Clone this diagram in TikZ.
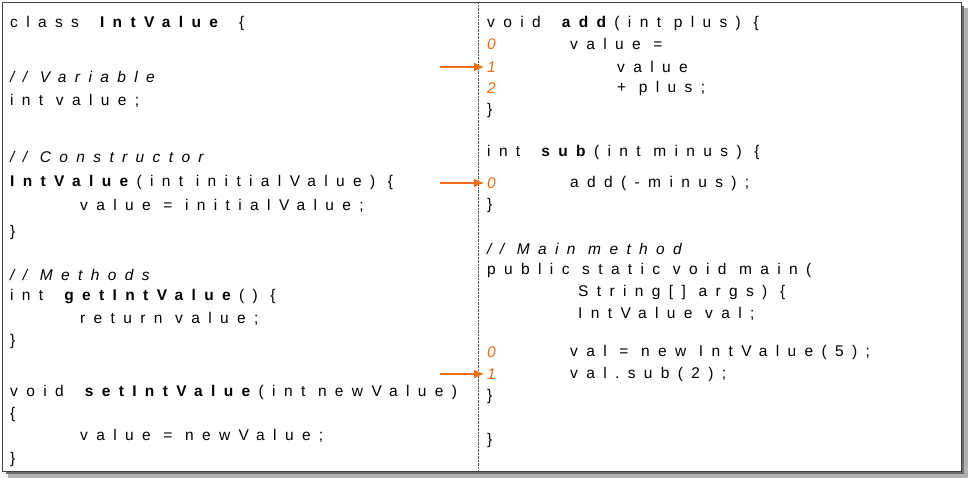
\documentclass[tikz,border=0pt]{standalone}
\usepackage{fontspec}
\usetikzlibrary{arrows.meta}
\newfontfamily\code[LetterSpace=54]{Liberation Sans}
\definecolor{org}{RGB}{240,110,20}
\begin{document}
\begin{tikzpicture}[x=1pt,y=-1pt,
  t/.style={anchor=west,inner sep=0pt,font=\code\fontsize{15.5}{17}\selectfont},
  o/.style={t,text=org,font=\code\itshape\fontsize{15.5}{17}\selectfont},
  arr/.style={draw=org,line width=1.4pt,-{Latex[length=10pt,width=9pt]}}]
\useasboundingbox (0,0) rectangle (969,478);
\fill[gray!60] (8,8) rectangle (968,478);
\fill[gray!85!black] (6,6) rectangle (964,474);
\draw[fill=white,draw=gray!50!black] (2,2) rectangle (961,471);
\draw[densely dotted,gray!70!black] (478,2) -- (478,471);
% left
\node[t] (l1) at (10,23) {class \textbf{IntValue} \{};
\node[t] (l2) at (10,77) {\itshape // Variable};
\node[t] (l3) at (10,101) {int value;};
\node[t] (l4) at (10,157) {\itshape // Constructor};
\node[t] (l5) at (10,182) {\textbf{IntValue}(int initialValue) \{};
\node[t] (l6) at (80,206) {value = initialValue;};
\node[t] (l7) at (10,232) {\}};
\node[t] (l8) at (10,275) {\itshape // Methods};
\node[t] (l9) at (10,297) {int \textbf{getIntValue}() \{};
\node[t] (l10) at (80,319) {return value;};
\node[t] (l11) at (10,341) {\}};
\node[t] (l12) at (10,392) {void \textbf{setIntValue}(int newValue)};
\node[t] (l13) at (10,414) {\{};
\node[t] (l14) at (80,436) {value = newValue;};
\node[t] (l15) at (10,459) {\}};
% right
\node[t] (r1) at (487,23) {void \textbf{add}(int plus) \{};
\node[o] (n0) at (487,44) {0};
\node[t] at (570,44) {value =};
\node[o] (n1) at (487,67) {1};
\node[t] at (617,67) {value};
\node[o] (n2) at (487,88) {2};
\node[t] at (617,88) {+ plus;};
\node[t] at (487,110) {\}};
\node[t] at (487,152) {int \textbf{sub}(int minus) \{};
\node[o] (m0) at (487,183) {0};
\node[t] at (570,183) {add(-minus);};
\node[t] at (487,205) {\}};
\node[t] at (487,249) {\itshape // Main method};
\node[t] at (487,270) {public static void main(};
\node[t] at (578,292) {String[] args) \{};
\node[t] at (578,314) {IntValue val;};
\node[o] (k0) at (487,352) {0};
\node[t] at (570,352) {val = new IntValue(5);};
\node[o] (k1) at (487,374) {1};
\node[t] at (570,374) {val.sub(2);};
\node[t] at (487,396) {\}};
\node[t] at (487,440) {\}};
\coordinate (a1) at (440,67);
\coordinate (a2) at (440,183);
\coordinate (a3) at (440,374);
\draw[arr] (a1) -- ([xshift=-3pt]n1.west);
\draw[arr] (a2) -- ([xshift=-3pt]m0.west);
\draw[arr] (a3) -- ([xshift=-3pt]k1.west);
\end{tikzpicture}
\end{document}
